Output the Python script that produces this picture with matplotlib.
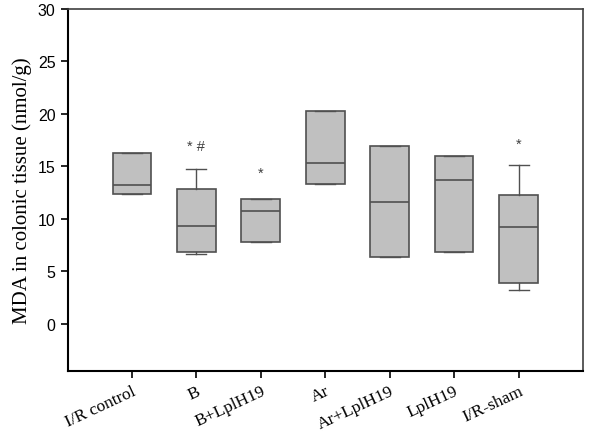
import matplotlib.pyplot as plt

# group names and box statistics
groups = ['I/R control', 'B', 'B+LplH19', 'Ar', 'Ar+LplH19', 'LplH19', 'I/R-sham']
q1 = [12.33, 6.87, 7.76, 13.28, 6.34, 6.81, 3.90]
med = [13.20, 9.32, 10.71, 15.27, 11.57, 13.66, 9.22]
q3 = [16.25, 12.83, 11.88, 20.20, 16.89, 15.94, 12.26]
whislo = [12.33, 6.62, 7.76, 13.28, 6.34, 6.81, 3.20]
whishi = [16.25, 14.70, 11.88, 20.20, 16.89, 15.94, 15.08]
marks = ['', '* #', '*', '', '', '', '*']
mark_y = [0, 16.95, 14.4, 0, 0, 0, 17.1]

stats = []
for i in range(len(groups)):
    stats.append({'q1': q1[i], 'med': med[i], 'q3': q3[i],
                  'whislo': whislo[i], 'whishi': whishi[i], 'fliers': []})

fig = plt.figure(figsize=(6, 4.35), dpi=100)
ax = fig.add_axes([67.5 / 600, 1 - 372 / 435, 515.5 / 600, 362.5 / 435])

edge = '#505050'
pos = list(range(1, len(groups) + 1))
ax.bxp(stats, positions=pos, widths=0.6, patch_artist=True, showfliers=False,
       boxprops=dict(facecolor='#c0c0c0', edgecolor=edge, linewidth=1.2),
       medianprops=dict(color=edge, linewidth=1.2),
       whiskerprops=dict(color=edge, linewidth=1.0),
       capprops=dict(color=edge, linewidth=1.0), capwidths=0.31)

# significance marks
for i, m in enumerate(marks):
    if m:
        ax.text(pos[i], mark_y[i], m, ha='center', va='center', fontsize=10.5,
                color='#404040', family='Liberation Sans')

ax.set_xlim(0, 8)
ax.set_ylim(-4.5, 30)
ax.set_yticks(range(0, 31, 5))
ax.set_yticklabels([str(v) for v in range(0, 31, 5)], family='Liberation Sans', fontsize=11.5)
ax.set_xticks(pos)
ax.set_xticklabels(groups, rotation=25, ha='right', rotation_mode='anchor',
                   family='Liberation Serif', fontsize=12.5)
ax.tick_params(direction='out', length=5, width=1.2, colors='black')
ax.set_ylabel('MDA in colonic tissue (nmol/g)', family='Liberation Serif', fontsize=15)

for s in ['left', 'bottom']:
    ax.spines[s].set_linewidth(1.5)
for s in ['top', 'right']:
    ax.spines[s].set_linewidth(1.2)
    ax.spines[s].set_color('#404040')

fig.savefig('out.png')
